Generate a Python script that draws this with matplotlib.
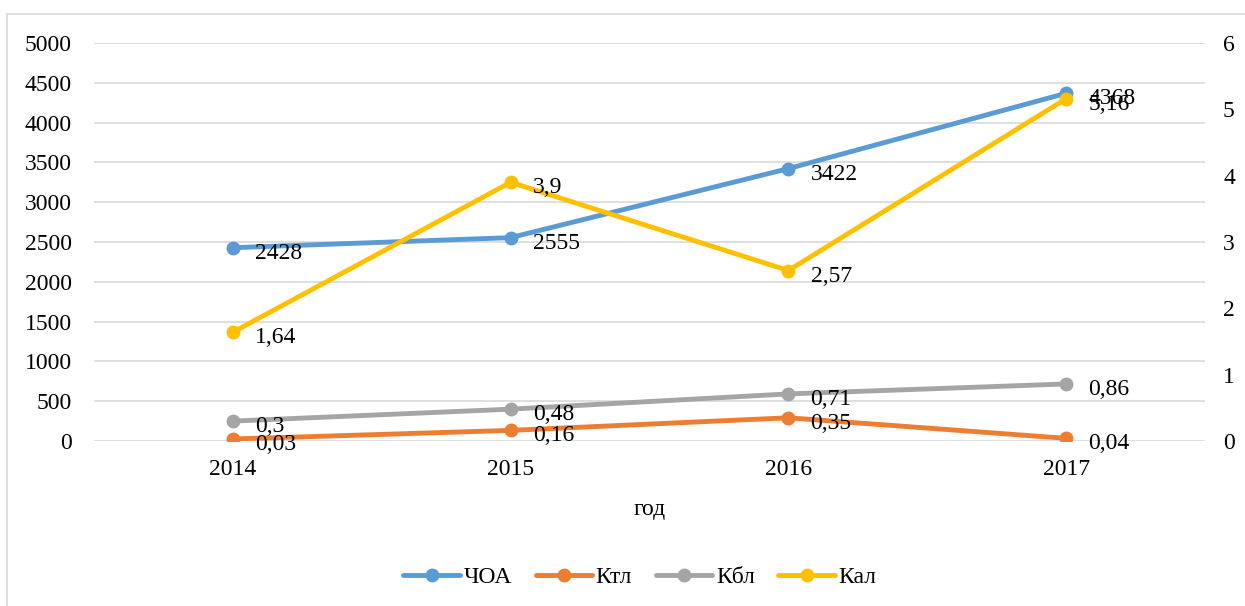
import matplotlib
matplotlib.use("Agg")
import matplotlib.pyplot as plt
from matplotlib.patches import Rectangle
from matplotlib.lines import Line2D

plt.rcParams['font.family'] = ['Liberation Serif', 'DejaVu Serif']

years = ["2014", "2015", "2016", "2017"]
choa = [2428, 2555, 3422, 4368]
ktl = [0.03, 0.16, 0.35, 0.04]
kbl = [0.3, 0.48, 0.71, 0.86]
kal = [1.64, 3.9, 2.57, 5.16]
left_ticks = list(range(0, 5001, 500))
right_ticks = list(range(0, 7))

W, H = 1245, 606
fig = plt.figure(figsize=(W / 100, H / 100), dpi=100)
fig.patches.append(Rectangle((7 / W, -0.1), 1.2, (606 - 14) / H + 0.1, transform=fig.transFigure,
                             fill=False, edgecolor='#D9D9D9', linewidth=1.2, zorder=0))

x0, x1, ytop, ybot = 94, 1205, 43, 441
ax = fig.add_axes([x0 / W, (H - ybot) / H, (x1 - x0) / W, (ybot - ytop) / H])
ax2 = ax.twinx()
ax.set_zorder(1)
ax2.set_zorder(2)
ax.patch.set_visible(False)
ax2.patch.set_visible(False)

fs = 17
x = list(range(len(years)))
colors = {'ЧОА': '#5B9BD5', 'Ктл': '#ED7D31', 'Кбл': '#A5A5A5', 'Кал': '#FFC000'}
lw, ms = 3.5, 9

ax.set_xlim(-0.5, 3.5)
ax.set_ylim(0, 5000)
ax2.set_ylim(0, 6)
ax.set_yticks(left_ticks)
ax2.set_yticks(right_ticks)
for t in left_ticks:
    ax.axhline(t, color='#D9D9D9', linewidth=1.2, zorder=0)

def fmt(v):
    return str(v).replace('.', ',')

ax.plot(x, choa, color=colors['ЧОА'], lw=lw, marker='o', ms=ms, solid_capstyle='round', zorder=3)
for xi, v in zip(x, choa):
    ax.annotate(fmt(v), (xi, v), xytext=(16, -4), textcoords='offset points', ha='left', va='center',
                fontsize=fs, color='#000000')

for name, data in [('Ктл', ktl), ('Кбл', kbl), ('Кал', kal)]:
    ax2.plot(x, data, color=colors[name], lw=lw, marker='o', ms=ms, solid_capstyle='round', zorder=3)
    for xi, v in zip(x, data):
        ax2.annotate(fmt(v), (xi, v), xytext=(16, -4), textcoords='offset points', ha='left', va='center',
                     fontsize=fs, color='#000000')

ax.set_xticks(x)
ax.set_xticklabels(years, fontsize=fs)
for a in (ax, ax2):
    for s in a.spines.values():
        s.set_visible(False)
    a.tick_params(length=0)
ax.tick_params(axis='y', labelsize=fs, pad=16)
ax.tick_params(axis='x', labelsize=fs, pad=13)
ax2.tick_params(axis='y', labelsize=fs, pad=13)
ax.set_xlabel('год', fontsize=fs, labelpad=14)

handles = [Line2D([0], [0], color=colors[n], lw=lw, marker='o', ms=ms, solid_capstyle='round')
           for n in colors]
fig.legend(handles, list(colors.keys()), loc='center', bbox_to_anchor=(640 / W, (H - 577) / H),
           ncol=4, frameon=False, fontsize=fs, handlelength=2.4, handletextpad=0.15, columnspacing=1.0)

fig.savefig('out.png', dpi=100)
